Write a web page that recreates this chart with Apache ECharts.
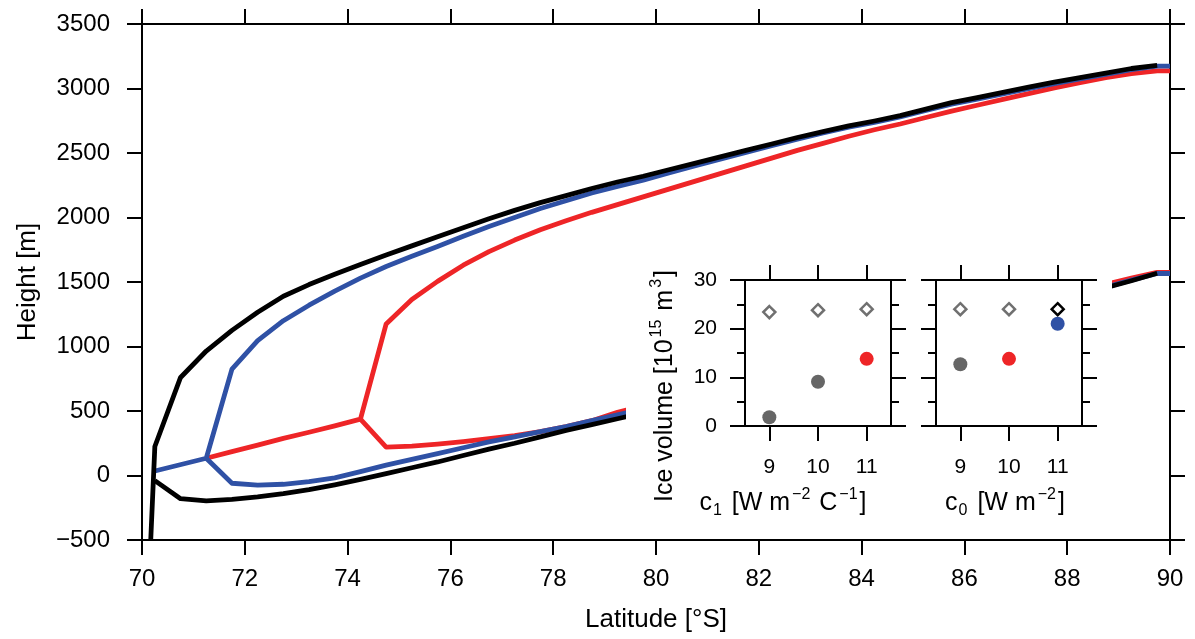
<!DOCTYPE html>
<html><head><meta charset="utf-8">
<script src="https://cdn.jsdelivr.net/npm/echarts@6/dist/echarts.min.js"></script>
<style>html,body{margin:0;padding:0;background:#fff}#c{width:1195px;height:639px}</style>
</head><body><div id="c"></div>
<script>
// ---------- main panel data (latitude °S, height m) ----------
const blackUpperLat = [70.17,70.25,70.75,71.25,71.75,72.25,72.75,73.25,73.75,74.25,74.75,75.25,75.75,76.25,76.75,77.25,77.75,78.25,78.75,79.25,79.75,80.25,80.75,81.25,81.75,82.25,82.75,83.25,83.75,84.25,84.75,85.25,85.75,86.25,86.75,87.25,87.75,88.25,88.75,89.25,89.75];
const blackUpperH   = [-500,225,760,965,1125,1265,1390,1480,1560,1635,1710,1780,1850,1920,1990,2055,2115,2170,2225,2275,2320,2370,2420,2470,2520,2570,2620,2665,2710,2748,2790,2840,2890,2930,2970,3010,3050,3085,3120,3155,3180];
const blackLowerLat = [70.25,70.75,71.25,71.75,72.25,72.75,73.25,73.75,74.25,74.75,75.25,75.75,76.25,76.75,77.25,77.75,78.25,78.75,79.25,79.75];
const blackLowerH   = [-40,-180,-197,-185,-165,-140,-110,-72,-30,15,60,105,155,205,250,300,350,395,440,485];
const blackLowerRLat = [88.75,89.25,89.75];
const blackLowerRH   = [1455,1510,1568];

const blueUpperLat = [70.25,71.25,71.75,72.25,72.75,73.25,73.75,74.25,74.75,75.25,75.75,76.25,76.75,77.25,77.75,78.25,78.75,79.25,79.75,80.25,80.75,81.25,81.75,82.25,82.75,83.25,83.75,84.25,84.75,85.25,85.75,86.25,86.75,87.25,87.75,88.25,88.75,89.25,89.75,90];
const blueUpperH   = [35,134,825,1045,1200,1320,1430,1530,1620,1700,1775,1855,1930,2000,2070,2130,2190,2240,2290,2345,2400,2452,2505,2557,2608,2655,2700,2738,2780,2830,2878,2918,2958,2998,3038,3074,3110,3146,3174,3174];
const blueLowerLat = [71.25,71.75,72.25,72.75,73.25,73.75,74.25,74.75,75.25,75.75,76.25,76.75,77.25,77.75,78.25,78.75,79.25,79.75];
const blueLowerH   = [134,-60,-75,-68,-48,-18,30,80,125,170,215,260,300,340,380,425,470,515];
const blueLowerRLat = [88.75,89.25,89.75,90];
const blueLowerRH   = [1460,1515,1566,1566];

const redUpperLat = [71.25,71.75,72.25,72.75,73.25,73.75,74.25,74.75,75.25,75.75,76.25,76.75,77.25,77.75,78.25,78.75,79.25,79.75,80.25,80.75,81.25,81.75,82.25,82.75,83.25,83.75,84.25,84.75,85.25,85.75,86.25,86.75,87.25,87.75,88.25,88.75,89.25,89.75,90];
const redUpperH   = [134,185,235,288,335,385,437,1175,1365,1505,1630,1735,1825,1905,1975,2040,2100,2160,2220,2280,2340,2400,2460,2520,2575,2630,2680,2725,2775,2825,2870,2915,2960,3005,3045,3085,3115,3137,3137];
const redLowerLat = [74.25,74.75,75.25,75.75,76.25,76.75,77.25,77.75,78.25,78.75,79.25,79.75];
const redLowerH   = [437,220,228,243,262,285,310,340,380,425,490,540];
const redLowerRLat = [88.75,89.25,89.75,90];
const redLowerRH   = [1482,1530,1574,1574];

const latTicks = {min:70, max:90, step:2};
const heightTicks = {min:-500, max:3500, step:500};

// ---------- inset data ----------
const paramTicks = [9,10,11];
const c1Values = [9,10,11];
const c1VolRef = [23.4,23.8,24.0];     // open diamonds
const c1Vol    = [1.8,9.1,13.8];       // filled circles
const c0Values = [9,10,11];
const c0VolRef = [24.0,24.0,24.0];
const c0Vol    = [12.7,13.8,21.0];
const volTicks = {min:0, max:30, step:10};

// ---------- styles ----------
const FONT = 'Liberation Sans, Arial, Helvetica, sans-serif';
const BLACK = '#000000', BLUE = '#2f51a5', RED = '#ee2527', GRAY = '#666666';
const c1CircleColors = [GRAY, GRAY, RED];
const c1DiamondColors = ['#707070', '#707070', '#707070'];
const c0CircleColors = [GRAY, RED, BLUE];
const c0DiamondColors = ['#707070', '#707070', BLACK];

const zip = (a, b) => a.map((v, i) => [v, b[i]]);
function lineSeries(lat, h, color) {
  return {type:'line', xAxisIndex:0, yAxisIndex:0, data:zip(lat, h), showSymbol:false, symbol:'none',
    lineStyle:{color:color, width:4.8, join:'round'}, silent:true, animation:false, z:2};
}
const axLine = {onZero:false, lineStyle:{color:'#000', width:2}};
const tick = (len) => ({show:true, inside:false, length:len, lineStyle:{color:'#000', width:2}});

const mainX = (pos, labels) => ({gridIndex:0, type:'value', position:pos, min:latTicks.min, max:latTicks.max, interval:latTicks.step,
  axisLine:axLine, axisTick:tick(15), splitLine:{show:false},
  axisLabel:{show:labels, fontSize:24, color:'#000', margin:27, fontFamily:FONT}});
const mainY = (pos, labels) => ({gridIndex:0, type:'value', position:pos, min:heightTicks.min, max:heightTicks.max, interval:heightTicks.step,
  axisLine:axLine, axisTick:tick(15), splitLine:{show:false},
  axisLabel:{show:labels, fontSize:24, color:'#000', margin:32, fontFamily:FONT, formatter:v => String(v).replace('-', '\u2212')}});
const insetX = (g, pos, labels) => ({gridIndex:g, type:'value', position:pos, min:8.5, max:11.5, z:20,
  axisLine:axLine, axisTick:Object.assign(tick(15), {customValues:paramTicks}), splitLine:{show:false},
  axisLabel:{show:labels, customValues:paramTicks, fontSize:21, color:'#000', margin:31, fontFamily:FONT}});
const insetY = (g, pos, labels) => ({gridIndex:g, type:'value', position:pos, min:volTicks.min, max:volTicks.max, interval:volTicks.step, z:20,
  axisLine:axLine, axisTick:tick(15), minorTick:{show:true, splitNumber:2, length:8, lineStyle:{color:'#000', width:2}},
  splitLine:{show:false}, minorSplitLine:{show:false},
  axisLabel:{show:labels, fontSize:21, color:'#000', margin:28, fontFamily:FONT}});

const xAxes = [mainX('bottom', true), mainX('top', false),
  insetX(1,'bottom',true), insetX(1,'top',false), insetX(2,'bottom',true), insetX(2,'top',false)];
xAxes[0].name = 'Latitude [°S]'; xAxes[0].nameLocation = 'middle'; xAxes[0].nameGap = 67;
xAxes[0].nameTextStyle = {fontSize:26, color:'#000', fontFamily:FONT};
const yAxes = [mainY('left', true), mainY('right', false),
  insetY(1,'left',true), insetY(1,'right',false), insetY(2,'left',false), insetY(2,'right',false)];
yAxes[0].name = 'Height [m]'; yAxes[0].nameLocation = 'middle'; yAxes[0].nameGap = 101;
yAxes[0].nameTextStyle = {fontSize:26, color:'#000', fontFamily:FONT};

function scatter(xi, yi, xs, ys, symbol, colors) {
  return {type:'scatter', xAxisIndex:xi, yAxisIndex:yi, z:30, silent:true, animation:false,
    symbol:symbol, symbolSize:symbol === 'diamond' ? 12 : 14,
    data:zip(xs, ys).map((d, i) => ({value:d, itemStyle: symbol === 'diamond'
      ? {color:'#fff', borderColor:colors[i], borderWidth:2.5, opacity:1}
      : {color:colors[i], borderWidth:0, opacity:1}}))};
}

const supRich = {
  n:{fontSize:25, lineHeight:32, fill:'#000', fontFamily:FONT},
  s:{fontSize:16, lineHeight:16, verticalAlign:'top', fill:'#000', fontFamily:FONT, padding:[0,2,0,2]},
  b:{fontSize:16, lineHeight:22, verticalAlign:'bottom', fill:'#000', fontFamily:FONT, padding:[0,3,0,1]}
};

const option = {
  animation:false,
  backgroundColor:'#fff',
  textStyle:{fontFamily:FONT},
  grid:[
    {left:142, top:24, width:1028, height:516},
    {left:745, top:280, width:146, height:146},
    {left:936, top:280, width:146, height:146}
  ],
  xAxis:xAxes,
  yAxis:yAxes,
  series:[
    lineSeries(redUpperLat, redUpperH, RED),
    lineSeries(redLowerLat, redLowerH, RED),
    lineSeries(redLowerRLat, redLowerRH, RED),
    lineSeries(blueUpperLat, blueUpperH, BLUE),
    lineSeries(blueLowerLat, blueLowerH, BLUE),
    lineSeries(blueLowerRLat, blueLowerRH, BLUE),
    lineSeries(blackUpperLat, blackUpperH, BLACK),
    lineSeries(blackLowerLat, blackLowerH, BLACK),
    lineSeries(blackLowerRLat, blackLowerRH, BLACK),
    scatter(2, 2, c1Values, c1VolRef, 'diamond', c1DiamondColors),
    scatter(2, 2, c1Values, c1Vol, 'circle', c1CircleColors),
    scatter(4, 4, c0Values, c0VolRef, 'diamond', c0DiamondColors),
    scatter(4, 4, c0Values, c0Vol, 'circle', c0CircleColors)
  ],
  graphic:[
    {type:'rect', z:10, silent:true, shape:{x:626, y:248, width:486, height:284}, style:{fill:'#fff'}},
    {type:'text', z:40, silent:true, x:665, y:386, rotation:Math.PI/2,
      style:{text:'{n|Ice volume [10}{s|15}{n| m}{s|3}{n|]}', rich:supRich, align:'center', verticalAlign:'middle'}},
    {type:'text', z:40, silent:true, x:783, y:503,
      style:{text:'{n|c}{b|1}{n| [W m}{s|\u22122}{n| C}{s|\u22121}{n|]}', rich:supRich, align:'center', verticalAlign:'middle'}},
    {type:'text', z:40, silent:true, x:1005, y:503,
      style:{text:'{n|c}{b|0}{n| [W m}{s|\u22122}{n|]}', rich:supRich, align:'center', verticalAlign:'middle'}}
  ]
};
const chart = echarts.init(document.getElementById('c'), null, {renderer:'canvas'});
chart.setOption(option);
</script></body></html>
